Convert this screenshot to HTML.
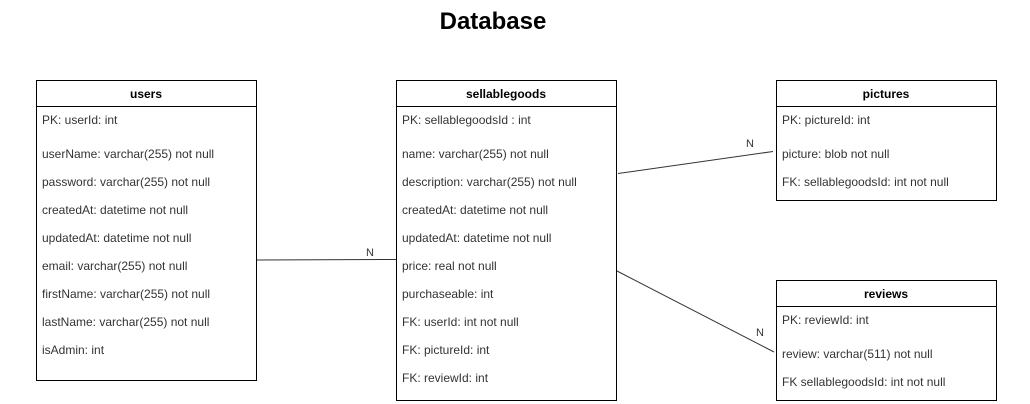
<!DOCTYPE html>
<html><head><meta charset="utf-8"><style>
html,body{margin:0;padding:0;background:#fff;width:1030px;height:404px;overflow:hidden}
text{font-family:"Liberation Sans",sans-serif}
.r{font-size:12px;fill:#333}
.h{font-size:12px;font-weight:bold;fill:#000}
</style></head><body>
<svg width="1030" height="404" xmlns="http://www.w3.org/2000/svg">
<text x="493" y="29" text-anchor="middle" style="font-size:24px;font-weight:bold">Database</text>
<g fill="none" stroke="#000" stroke-width="1">
<rect x="36.5" y="80.5" width="220" height="300"/><line x1="36" y1="106.5" x2="257" y2="106.5"/>
<rect x="396.5" y="80.5" width="220" height="320"/><line x1="396" y1="106.5" x2="617" y2="106.5"/>
<rect x="776.5" y="80.5" width="220" height="120"/><line x1="776" y1="106.5" x2="997" y2="106.5"/>
<rect x="776.5" y="280.5" width="220" height="120"/><line x1="776" y1="306.5" x2="997" y2="306.5"/>
</g>
<g stroke="#333" stroke-width="1">
<line x1="257" y1="260" x2="396" y2="259.5"/>
<line x1="618" y1="173.5" x2="773" y2="151.5"/>
<line x1="617" y1="271" x2="774" y2="352"/>
</g>
<g class="r" font-size="11">
<text x="366" y="256" class="r" style="font-size:11px">N</text>
<text x="746" y="147" class="r" style="font-size:11px">N</text>
<text x="756" y="336" class="r" style="font-size:11px">N</text>
</g>
<text class="h" x="146" y="98" text-anchor="middle">users</text>
<text class="h" x="506" y="98" text-anchor="middle">sellablegoods</text>
<text class="h" x="886" y="98" text-anchor="middle">pictures</text>
<text class="h" x="886" y="298" text-anchor="middle">reviews</text>
<g class="r">
<text x="42" y="124">PK: userId: int</text>
<text x="42" y="158">userName: varchar(255) not null</text>
<text x="42" y="186">password: varchar(255) not null</text>
<text x="42" y="214">createdAt: datetime not null</text>
<text x="42" y="242">updatedAt: datetime not null</text>
<text x="42" y="270">email: varchar(255) not null</text>
<text x="42" y="298">firstName: varchar(255) not null</text>
<text x="42" y="326">lastName: varchar(255) not null</text>
<text x="42" y="354">isAdmin: int</text>

<text x="402" y="124">PK: sellablegoodsId : int</text>
<text x="402" y="158">name: varchar(255) not null</text>
<text x="402" y="186">description: varchar(255) not null</text>
<text x="402" y="214">createdAt: datetime not null</text>
<text x="402" y="242">updatedAt: datetime not null</text>
<text x="402" y="270">price: real not null</text>
<text x="402" y="298">purchaseable: int</text>
<text x="402" y="326">FK: userId: int not null</text>
<text x="402" y="354">FK: pictureId: int</text>
<text x="402" y="382">FK: reviewId: int</text>

<text x="782" y="124">PK: pictureId: int</text>
<text x="782" y="158">picture: blob not null</text>
<text x="782" y="186">FK: sellablegoodsId: int not null</text>

<text x="782" y="324">PK: reviewId: int</text>
<text x="782" y="358">review: varchar(511) not null</text>
<text x="782" y="386">FK sellablegoodsId: int not null</text>
</g>
</svg>
</body></html>
